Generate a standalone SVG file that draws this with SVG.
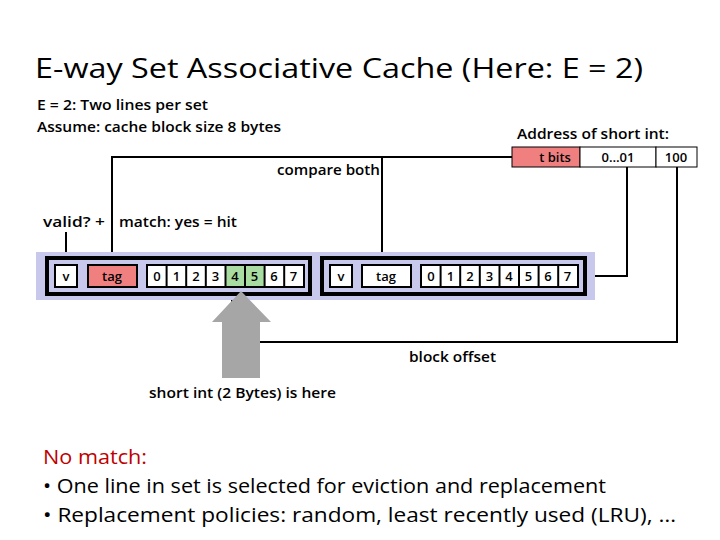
<svg xmlns="http://www.w3.org/2000/svg" width="720" height="540" viewBox="0 0 720 540">
<style>
text{font-family:"Open Sans",Lato,sans-serif;fill:#000;font-weight:600}
.s{font-size:14px}
.c{font-size:13px;text-anchor:middle}
.n{font-size:20px;font-weight:500}
.b{fill:#fff;stroke:#000;stroke-width:2}
.o{fill:none;stroke:#000;stroke-width:4}
.w{fill:none;stroke:#000;stroke-width:2}
</style>
<rect width="720" height="540" fill="#fff"/>
<text x="35" y="78" font-size="28" textLength="608" lengthAdjust="spacingAndGlyphs" style="font-weight:500">E-way Set Associative Cache (Here: E = 2)</text>
<text x="37" y="110" class="s" textLength="171" lengthAdjust="spacingAndGlyphs">E = 2: Two lines per set</text>
<text x="37" y="132" class="s" textLength="244" lengthAdjust="spacingAndGlyphs">Assume: cache block size 8 bytes</text>
<text x="517" y="139" class="s" textLength="152" lengthAdjust="spacingAndGlyphs">Address of short int:</text>
<g id="connectors">
<polyline class="w" points="512,157 112,157 112,264"/>
<line class="w" x1="382" y1="157" x2="382" y2="264"/>
<polyline class="w" points="627,167 627,276 595,276"/>
<polyline class="w" points="677,167 677,342 258,342"/>
<line class="w" x1="66" y1="232" x2="66" y2="264"/>
<line class="w" x1="232" y1="288" x2="232" y2="304"/>
</g>
<text x="277" y="175" class="s" textLength="103" lengthAdjust="spacingAndGlyphs">compare both</text>
<text x="43" y="227" class="s" textLength="62" lengthAdjust="spacingAndGlyphs">valid?  +</text>
<text x="119" y="227" class="s" textLength="118" lengthAdjust="spacingAndGlyphs">match: yes = hit</text>
<rect x="36" y="252" width="559" height="48" fill="#c8c8ec"/>
<g id="line1">
<rect x="47" y="258" width="263" height="36" class="o" fill="#a6a6de"/>
<rect x="55" y="265" width="22" height="22" class="b"/><text x="66" y="281" class="c">v</text>
<rect x="88" y="265" width="49" height="22" class="b" style="fill:#f08080"/><text x="112" y="281" class="c">tag</text>
<rect x="147" y="265" width="157" height="22" class="b"/>
</g>
<g id="line2">
<rect x="322" y="258" width="263" height="36" class="o" fill="#a6a6de"/>
<rect x="330" y="265" width="22" height="22" class="b"/><text x="341" y="281" class="c">v</text>
<rect x="362" y="265" width="49" height="22" class="b"/><text x="386" y="281" class="c">tag</text>
<rect x="421" y="265" width="157" height="22" class="b"/>
</g>
<g id="cells">
<rect x="225.5" y="265" width="39" height="22" fill="#a8dca0"/>
<g class="c">
<text x="157" y="281">0</text><text x="176.5" y="281">1</text><text x="196" y="281">2</text><text x="215.5" y="281">3</text><text x="235" y="281">4</text><text x="254.5" y="281">5</text><text x="274" y="281">6</text><text x="293.5" y="281">7</text>
<text x="431" y="281">0</text><text x="450.5" y="281">1</text><text x="470" y="281">2</text><text x="489.5" y="281">3</text><text x="509" y="281">4</text><text x="528.5" y="281">5</text><text x="548" y="281">6</text><text x="567.5" y="281">7</text>
</g>
<path d="M166.6 265v22M186.2 265v22M205.8 265v22M225.5 265v22M245 265v22M264.6 265v22M284.2 265v22M440.6 265v22M460.2 265v22M479.8 265v22M499.5 265v22M519 265v22M538.6 265v22M558.2 265v22" stroke="#000" stroke-width="2"/>
<rect x="147" y="265" width="157" height="22" class="w"/>
<rect x="421" y="265" width="157" height="22" class="w"/>
</g>
<g id="address">
<rect x="512" y="147" width="68" height="20" fill="#f08080" stroke="#000"/>
<rect x="580" y="147" width="76" height="20" fill="#fff" stroke="#000"/>
<rect x="656" y="147" width="41" height="20" fill="#fff" stroke="#000"/>
<text x="555" y="162" class="c">t bits</text>
<text x="618" y="162" class="c">0…01</text>
<text x="676" y="162" class="c">100</text>
</g>
<g id="arrow"><polygon points="241,291 271,322 260,322 260,378 222,378 222,322 212,322" fill="#a6a6a6"/></g>
<text x="409" y="362" class="s" textLength="87" lengthAdjust="spacingAndGlyphs">block offset</text>
<text x="149" y="398" class="s" textLength="187" lengthAdjust="spacingAndGlyphs">short int (2 Bytes) is here</text>
<text x="43" y="464" class="n" textLength="104" lengthAdjust="spacingAndGlyphs" style="fill:#c00000">No match:</text>
<text x="43" y="493" class="n" textLength="563" lengthAdjust="spacingAndGlyphs">• One line in set is selected for eviction and replacement</text>
<text x="43" y="522" class="n" textLength="633" lengthAdjust="spacingAndGlyphs">• Replacement policies: random, least recently used (LRU), …</text>
</svg>
